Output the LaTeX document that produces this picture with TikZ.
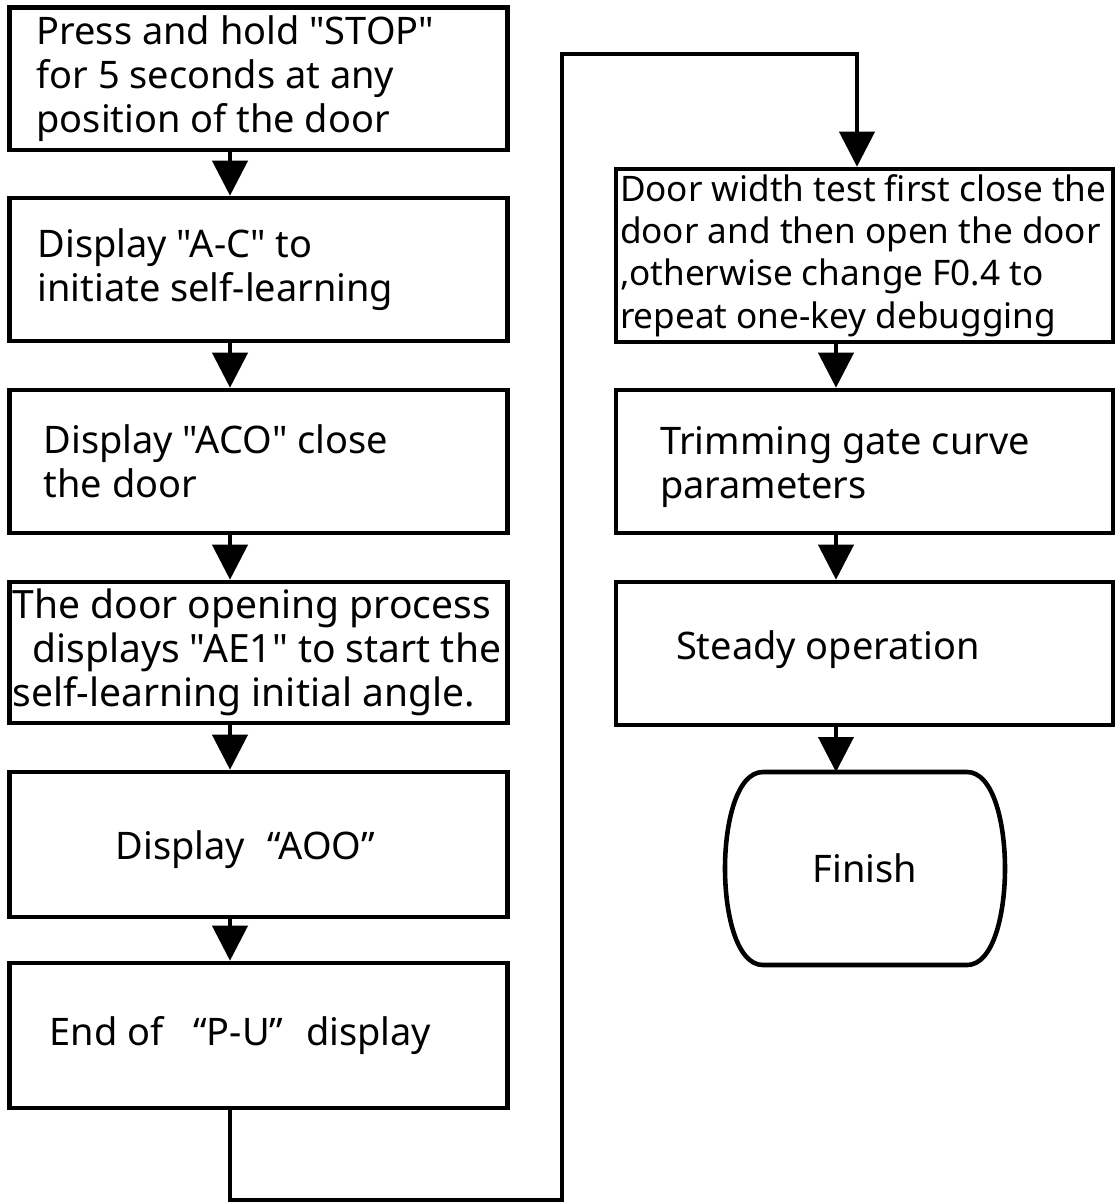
\documentclass[tikz,border=0pt]{standalone}
\usepackage{fontspec}
\setmainfont{Noto Sans}[Ligatures=TeXOff]
\usepackage{tikz}
\usetikzlibrary{positioning, arrows.meta}

\begin{document}
\begin{tikzpicture}[
    every node/.style={font=\fontsize{21.6pt}{25pt}\selectfont},
    stepbox/.style={draw, line width=2.6pt, minimum width=9.96cm, minimum height=2.86cm},
    steptext/.style={inner sep=0pt, align=left},
    flow/.style={line width=2.3pt, -{Triangle[length=0.7cm, width=0.7cm]}}
]
\useasboundingbox (0,0) rectangle (22.32,-24.06);

% left column
\node[stepbox, minimum height=2.85cm] (press) at (5.17,-1.575) {};
\node[stepbox] (learn) at (5.17,-5.39) {};
\node[stepbox] (close) at (5.17,-9.23) {};
\node[stepbox, minimum height=2.82cm] (opening) at (5.17,-13.05) {};
\node[stepbox, minimum height=2.9cm] (aoo) at (5.17,-16.89) {};
\node[stepbox, minimum height=2.9cm] (pu) at (5.17,-20.71) {};

\node[steptext, right=0.58cm of press.west] (press-t)
    {Press and hold "STOP"\\for 5 seconds at any\\position of the door};
\node[steptext, right=0.6cm of learn.west] (learn-t)
    {Display "A-C" to\\initiate self-learning};
\node[steptext, right=0.72cm of close.west] (close-t)
    {Display "ACO" close\\the door};
\node[steptext, right=0.1cm of opening.west, font=\fontsize{22.2pt}{25pt}\selectfont] (opening-t)
    {The door opening process\\\hspace*{0.4cm}displays "AE1" to start the\\self-learning initial angle.};
\node[steptext, right=2.16cm of aoo.west, yshift=-0.1cm] (aoo-t)
    {Display\hspace{0.45cm}“AOO”};
\node[steptext, right=0.84cm of pu.west] (pu-t)
    {End of\hspace{0.6cm}“P-U”\hspace{0.45cm}display};

% right column
\node[stepbox, minimum width=9.94cm, minimum height=3.46cm] (test) at (17.29,-5.11) {};
\node[stepbox, minimum width=9.94cm] (trim) at (17.29,-9.23) {};
\node[stepbox, minimum width=9.94cm] (steady) at (17.29,-13.07) {};
\node[minimum width=5.6cm, minimum height=3.86cm, outer sep=0pt] (finish) at (17.30,-17.37) {Finish};

\node[steptext, right=0.12cm of test.west, font=\fontsize{20pt}{24pt}\selectfont] (test-t)
    {Door width test first close the\\door and then open the door\\,otherwise change F0.4 to\\repeat one-key debugging};
\node[steptext, right=0.92cm of trim.west, yshift=-0.12cm] (trim-t)
    {Trimming gate curve\\parameters};
\node[steptext, right=1.24cm of steady.west, yshift=0.08cm] (steady-t)
    {Steady operation};

\draw[line width=2.6pt] ([xshift=0.76cm]finish.north west) -- ([xshift=-0.76cm]finish.north east)
    .. controls ([xshift=-0.24cm]finish.north east) and ([yshift=-1cm]finish.north east) .. (finish.east)
    .. controls ([yshift=1cm]finish.south east) and ([xshift=-0.24cm]finish.south east) .. ([xshift=-0.76cm]finish.south east)
    -- ([xshift=0.76cm]finish.south west)
    .. controls ([xshift=0.24cm]finish.south west) and ([yshift=1cm]finish.south west) .. (finish.west)
    .. controls ([yshift=-1cm]finish.north west) and ([xshift=0.24cm]finish.north west) .. cycle;

% connectors
\coordinate (lx) at (4.6,0);
\coordinate (rx) at (16.72,0);
\coordinate (tx) at (17.14,0);
\coordinate (loopbot) at (11.24,-24.0);
\coordinate (looptop) at (11.24,-1.08);

\draw[flow] (press.south -| lx) -- (learn.north -| lx);
\draw[flow] (learn.south -| lx) -- (close.north -| lx);
\draw[flow] (close.south -| lx) -- (opening.north -| lx);
\draw[flow] (opening.south -| lx) -- (aoo.north -| lx);
\draw[flow] (aoo.south -| lx) -- (pu.north -| lx);
\draw[flow] (pu.south -| lx) |- (loopbot) -- (looptop) -| (test.north -| tx);
\draw[flow] (test.south -| rx) -- (trim.north -| rx);
\draw[flow] (trim.south -| rx) -- (steady.north -| rx);
\draw[flow] (steady.south -| rx) -- (finish.north -| rx);
\end{tikzpicture}
\end{document}
